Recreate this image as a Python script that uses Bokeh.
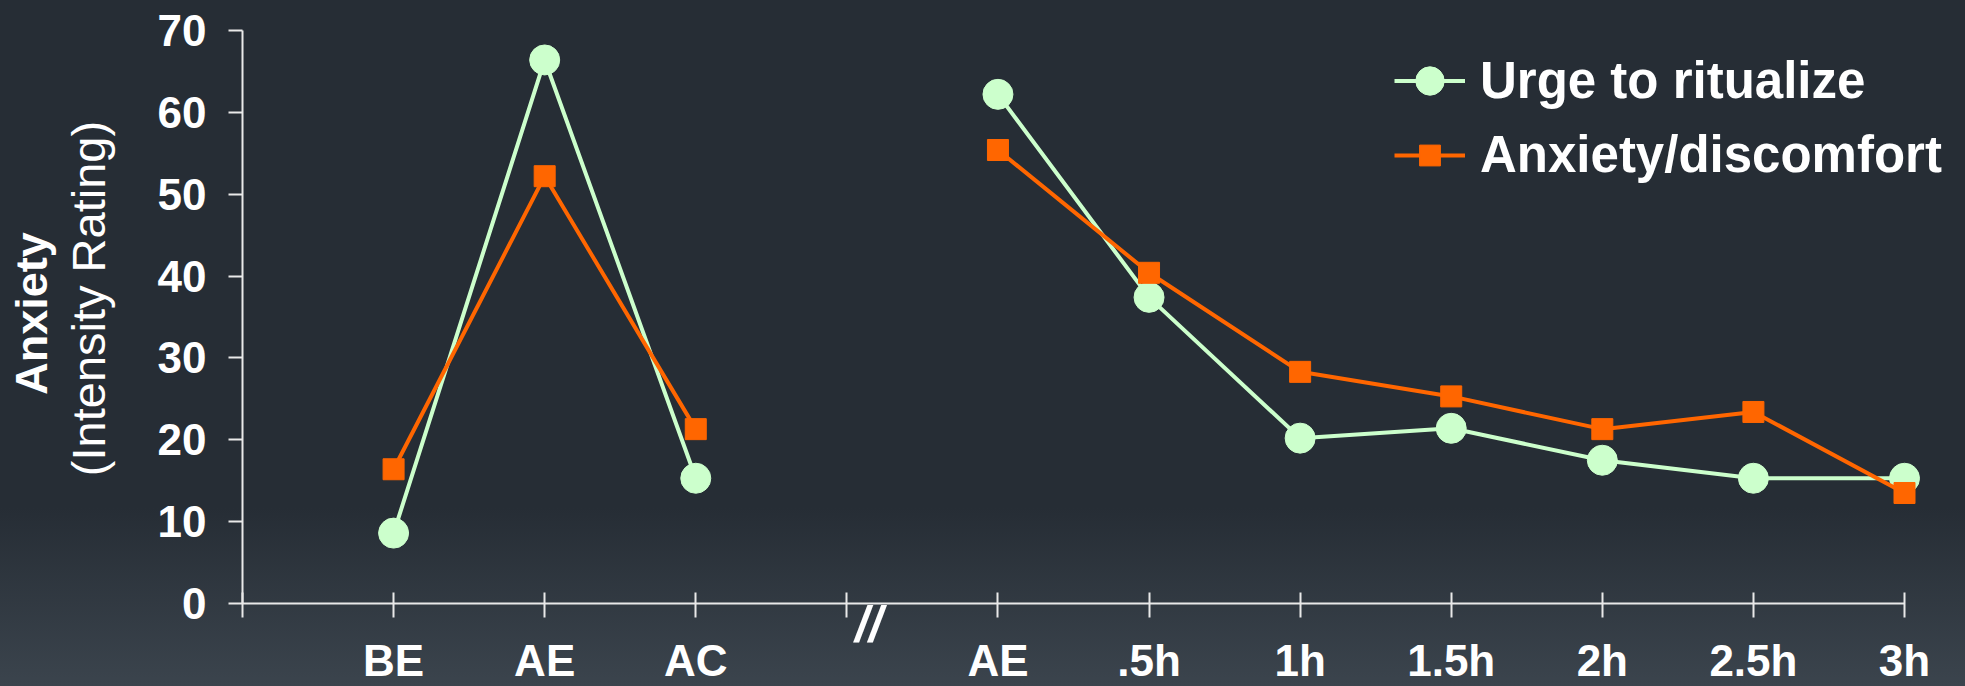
import math
from bokeh.plotting import figure
from bokeh.models import Range1d, FixedTicker, Label, Legend, LegendItem
from bokeh.embed import file_html
from bokeh.resources import INLINE

# ---- data ----
categories = ["BE", "AE", "AC", "AE", ".5h", "1h", "1.5h", "2h", "2.5h", "3h"]
x_positions = [1, 2, 3, 5, 6, 7, 8, 9, 10, 11]
break_position = 4
urge = [8.6, 66.4, 15.3, 62.2, 37.4, 20.2, 21.4, 17.5, 15.3, 15.3]
anxiety = [16.4, 52.2, 21.3, 55.4, 40.4, 28.3, 25.3, 21.3, 23.4, 13.5]
series_names = ["Urge to ritualize", "Anxiety/discomfort"]
y_ticks = [0, 10, 20, 30, 40, 50, 60, 70]
x_ticks = list(range(0, 12))

GREEN = "#ccffcc"
ORANGE = "#ff6600"
AXIS = "#e9e9e9"
FONT = "Liberation Sans"

W, H = 1965, 686
# pixel layout of the plotting area (axis origin and extents)
X0_PX, X11_PX = 242, 1904
Y0_PX, Y70_PX = 603, 30
xs = (X11_PX - X0_PX) / 11.0
ys = (Y0_PX - Y70_PX) / 70.0

# line data with a gap at the break
n_pre = sum(1 for x in x_positions if x < break_position)
line_x = x_positions[:n_pre] + [float("nan")] + x_positions[n_pre:]
line_urge = urge[:n_pre] + [float("nan")] + urge[n_pre:]
line_anx = anxiety[:n_pre] + [float("nan")] + anxiety[n_pre:]

p = figure(width=W, height=H,
           x_range=Range1d(-X0_PX / xs, (W - X0_PX) / xs),
           y_range=Range1d(-(H - Y0_PX) / ys, Y0_PX / ys),
           output_backend="svg", toolbar_location=None, min_border=0)
p.background_fill_alpha = 0
p.border_fill_alpha = 0
p.outline_line_color = None
p.grid.visible = False
p.styles = {"background": "linear-gradient(to bottom, #262d35 0%, #262d35 74%, #3b444d 100%)"}

# x axis
xa = p.xaxis[0]
xa.fixed_location = 0
xa.bounds = (0, 11)
xa.ticker = FixedTicker(ticks=x_ticks)
overrides = {t: "" for t in x_ticks}
for xp, c in zip(x_positions, categories):
    overrides[xp] = c
xa.major_label_overrides = overrides
xa.major_tick_in = 11
xa.major_tick_out = 14
xa.minor_tick_line_color = None
xa.axis_line_color = AXIS
xa.axis_line_width = 2
xa.major_tick_line_color = AXIS
xa.major_tick_line_width = 2
xa.major_label_text_font = FONT
xa.major_label_text_font_style = "bold"
xa.major_label_text_font_size = "44px"
xa.major_label_text_color = "white"
xa.major_label_standoff = 18

# y axis
ya = p.yaxis[0]
ya.fixed_location = 0
ya.bounds = (0, 70)
ya.ticker = FixedTicker(ticks=y_ticks)
ya.major_tick_in = 0
ya.major_tick_out = 14
ya.minor_tick_line_color = None
ya.axis_line_color = AXIS
ya.axis_line_width = 2
ya.major_tick_line_color = AXIS
ya.major_tick_line_width = 2
ya.major_label_text_font = FONT
ya.major_label_text_font_style = "bold"
ya.major_label_text_font_size = "44px"
ya.major_label_text_color = "white"
ya.major_label_standoff = 22

# series
r_ul = p.line(line_x, line_urge, line_color=GREEN, line_width=4)
r_up = p.scatter(x_positions, urge, marker="circle", size=30,
                 fill_color=GREEN, line_color=GREEN)
r_al = p.line(line_x, line_anx, line_color=ORANGE, line_width=4)
r_ap = p.scatter(x_positions, anxiety, marker="square", size=21,
                 fill_color=ORANGE, line_color=ORANGE)

# axis titles (screen units inside the full-canvas frame, y from bottom)
p.add_layout(Label(x=31, y=H - 313, x_units="screen", y_units="screen",
                   text="Anxiety", angle=math.pi / 2,
                   text_align="center", text_baseline="alphabetic",
                   text_font=FONT, text_font_style="bold",
                   text_font_size="45px", text_color="white"))
p.add_layout(Label(x=88, y=H - 298, x_units="screen", y_units="screen",
                   text="(Intensity Rating)", angle=math.pi / 2,
                   text_align="center", text_baseline="alphabetic",
                   text_font=FONT, text_font_style="normal",
                   text_font_size="47px", text_color="white"))

# axis break mark
p.add_layout(Label(x=break_position, y=0, text="//", x_offset=22, y_offset=-20,
                   text_align="center", text_baseline="alphabetic",
                   text_font=FONT, text_font_style="bold italic",
                   text_font_size="50px", text_color="white"))

def make_legend(name, rends, gh, loc):
    return Legend(items=[LegendItem(label=name, renderers=rends)],
                  location=loc, glyph_width=71, glyph_height=gh,
                  padding=0, spacing=0, margin=0, label_standoff=15,
                  border_line_color=None, background_fill_alpha=0,
                  label_text_font=FONT, label_text_font_style="bold",
                  label_text_font_size="51px", label_text_color="white")

p.add_layout(make_legend(series_names[0], [r_ul, r_up], 75, (1394, H - 117.5)))
p.add_layout(make_legend(series_names[1], [r_al, r_ap], 52, (1394, H - 184)))

open("out.html", "w").write(file_html(p, INLINE))
